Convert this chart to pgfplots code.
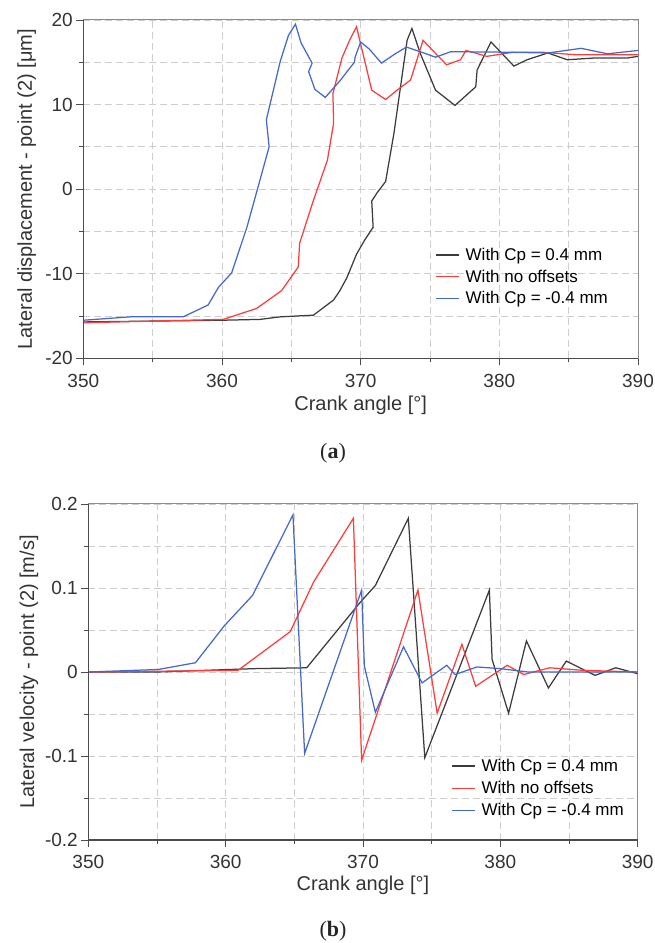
\documentclass[border=0pt]{standalone}
\usepackage{pgfplots}
\pgfplotsset{compat=1.18}
\usepackage{fontspec}
\setmainfont{Liberation Sans}
\newfontfamily\panelfont{Liberation Serif}
\definecolor{lineblack}{RGB}{60,60,60}
\definecolor{linered}{RGB}{255,60,60}
\definecolor{lineblue}{RGB}{70,105,200}
\definecolor{gridc}{RGB}{205,205,205}
\pgfplotsset{
 base/.style={
  scale only axis,
  xmin=350,xmax=390,
  xtick={350,360,...,390},
  minor x tick num=1,
  grid=both,
  major grid style={draw=gridc, dash pattern=on 7pt off 4pt, line width=0.9pt},
  minor grid style={draw=gridc, dash pattern=on 7pt off 4pt, line width=0.9pt},
  tick align=outside,
  tick pos=left,
  major tick length=7pt,
  minor tick length=4pt,
  every tick/.style={draw=black!70, line width=0.9pt},
  axis line style={draw=black!45, line width=1pt},
  /pgf/number format/assume math mode=true,
  tick label style={font=\fontsize{19}{22}\selectfont, text=black!80},
  xticklabel style={yshift=-5pt},
  label style={font=\fontsize{20}{24}\selectfont, text=black!80},
  xlabel={Crank angle [°]},
  legend style={draw=none, fill=none, font=\fontsize{17}{20}\selectfont,
    cells={anchor=west}, inner sep=0pt, row sep=3.8pt, column sep=4pt},
  legend image code/.code={\draw[mark repeat=2,mark phase=2,#1,line width=1.5pt] plot coordinates {(0pt,0pt) (11.5pt,0pt) (23pt,0pt)};},
  every axis plot/.append style={line width=1.25pt, mark=none},
  extra description/.code={\draw[black!70, line width=1.3pt] (rel axis cs:0,1) -- (rel axis cs:0,0) -- (rel axis cs:1,0);},
 }
}
\begin{document}
\begin{tikzpicture}
\path[use as bounding box] (0,0) rectangle (654pt,943pt);
% ---------------- (a) displacement ----------------
\begin{axis}[base,
  at={(83.3pt,584.7pt)}, anchor=south west,
  width=554.7pt, height=338.3pt,
  ymin=-20, ymax=20,
  ytick={-20,-10,...,20},
  minor y tick num=1,
  ylabel={Lateral displacement - point (2) [μm]},
  xlabel style={at={(axis description cs:0.5,-0.138)}, anchor=center},
  ylabel style={at={(axis description cs:-0.102,0.5)}, anchor=center},
  legend style={at={(axis description cs:0.634,0.332)}, anchor=north west},
]
\addplot[color=lineblack] coordinates {
(350,-15.7) (355,-15.6) (360,-15.5) (362.75,-15.4) (364.2,-15.1) (366.6,-14.9)
(368.05,-13.1) (368.5,-12.0) (369.0,-10.5) (369.7,-7.7) (370.3,-6.0) (370.9,-4.5)
(370.8,-1.4) (371.2,-0.4) (371.8,0.9) (372.4,6.6) (373.35,17.6) (373.7,19.0)
(374.3,16.05) (375.4,11.7) (376.8,9.9) (378.3,12.1) (378.4,14.1) (379.4,17.4)
(381.05,14.55) (382.0,15.3) (383.5,16.1) (384.9,15.3) (386.8,15.5) (389.2,15.5) (390,15.7)
};
\addlegendentry{With Cp = 0.4 mm}
\addplot[color=linered] coordinates {
(350,-15.8) (355,-15.6) (360.1,-15.4) (362.5,-14.1) (364.3,-12.0) (365.5,-9.2)
(365.6,-6.4) (366.6,-1.3) (367.6,3.4) (368.05,7.8) (368.0,11.3) (368.65,15.5)
(369.2,17.6) (369.7,19.2) (370.8,11.7) (371.8,10.6) (372.7,11.8) (373.6,12.9)
(374.5,17.6) (375.4,16.05) (376.2,14.7) (377.2,15.3) (377.6,16.4) (379.1,15.7)
(381.05,16.2) (383.0,16.2) (385.4,15.9) (390,15.9)
};
\addlegendentry{With no offsets}
\addplot[color=lineblue] coordinates {
(350,-15.5) (353.4,-15.1) (357.2,-15.1) (359.0,-13.7) (359.75,-11.6) (360.7,-9.9)
(361.8,-4.5) (363.4,5.0) (363.2,8.2) (364.2,15.1) (364.8,18.2) (365.3,19.5)
(365.7,17.3) (366.5,14.9) (366.25,13.9) (366.7,11.8) (367.45,10.85) (368.5,12.8)
(369.55,15.0) (369.6,15.6) (370.0,17.4) (370.6,16.6) (371.5,14.9) (372.4,15.9)
(373.3,16.8) (374.3,16.25) (375.4,15.6) (376.5,16.25) (380,16.2) (383.5,16.1)
(385.9,16.65) (387.8,16.0) (390,16.4)
};
\addlegendentry{With Cp = -0.4 mm}
\end{axis}
\node[font=\panelfont\fontsize{22}{26}\selectfont, text=black!85] at (333pt,490pt) {(\textbf{a})};
% ---------------- (b) velocity ----------------
\begin{axis}[base,
  at={(88.3pt,103pt)}, anchor=south west,
  width=549.4pt, height=336pt,
  ymin=-0.2, ymax=0.2,
  ytick={-0.2,-0.1,0,0.1,0.2},
  minor y tick num=1,
  yticklabel style={/pgf/number format/fixed, /pgf/number format/precision=1},
  ylabel={Lateral velocity - point (2) [m/s]},
  xlabel style={at={(axis description cs:0.5,-0.136)}, anchor=center},
  ylabel style={at={(axis description cs:-0.108,0.5)}, anchor=center},
  legend style={at={(axis description cs:0.66,0.247)}, anchor=north west, row sep=4.4pt},
]
\addplot[color=lineblack] coordinates {
(350,0) (355,0) (362.1,0.004) (365.9,0.005) (369.8,0.083) (370.9,0.103)
(373.3,0.183) (374.5,-0.102) (379.2,0.0975) (379.4,0.015) (380.6,-0.049)
(381.9,0.037) (383.5,-0.019) (384.8,0.013) (386.9,-0.004) (388.4,0.005) (390,-0.002)
};
\addlegendentry{With Cp = 0.4 mm}
\addplot[color=linered] coordinates {
(350,0) (360.9,0.002) (364.7,0.048) (366.4,0.107) (369.3,0.183) (369.9,-0.105)
(374.0,0.0975) (375.4,-0.049) (377.2,0.033) (378.2,-0.017) (380.5,0.008)
(381.7,-0.003) (383.6,0.005) (386,0.002) (390,0)
};
\addlegendentry{With no offsets}
\addplot[color=lineblue] coordinates {
(350,0) (355.1,0.003) (357.8,0.011) (359.9,0.055) (361.95,0.091) (364.9,0.187)
(365.75,-0.097) (369.9,0.0975) (370.1,0.007) (370.9,-0.048) (372.95,0.030)
(374.3,-0.013) (376.1,0.008) (376.7,-0.003) (378.3,0.006) (380.0,0.004) (382,0.0) (390,0)
};
\addlegendentry{With Cp = -0.4 mm}
\end{axis}
\node[font=\panelfont\fontsize{22}{26}\selectfont, text=black!85] at (333pt,11.3pt) {(\textbf{b})};
\end{tikzpicture}
\end{document}
